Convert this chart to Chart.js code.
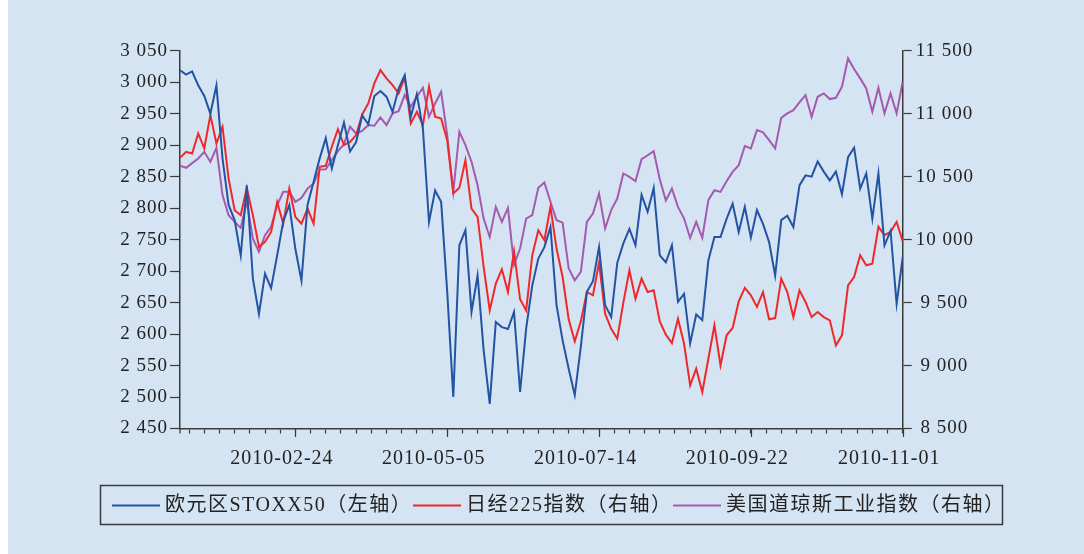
<!DOCTYPE html>
<html>
<head>
<meta charset="utf-8">
<script src="https://cdn.jsdelivr.net/npm/chart.js@4.4.0/dist/chart.umd.min.js"></script>
<style>
  html, body { margin: 0; padding: 0; background: #fff; }
  #wrap { position: relative; width: 1084px; height: 554px; background: #d5e4f3; overflow: hidden; }
  #band { position: absolute; left: 0; top: 0; width: 8px; height: 554px; background: #fff; }
  canvas { position: absolute; left: 0; top: 0; }
</style>
</head>
<body>
<div id="wrap"><div id="band"></div><canvas id="chart" width="1084" height="554"></canvas></div>
<script>
// one sample every 2 trading days, from day 2 to day 240
const stoxx = [
  3019, 3012, 3017, 2995, 2978, 2950, 2995, 2879, 2805, 2781,
  2725, 2836, 2688, 2632, 2696, 2673, 2725, 2779, 2805, 2735,
  2685, 2805, 2842, 2879, 2911, 2863, 2900, 2936, 2890, 2905,
  2947, 2933, 2978, 2986, 2977, 2953, 2990, 3011, 2945, 2981,
  2926, 2778, 2828, 2810, 2667, 2500, 2741, 2765, 2635, 2693,
  2574, 2489, 2619, 2611, 2608, 2635, 2508, 2609, 2677, 2720,
  2738, 2770, 2646, 2590, 2545, 2503, 2580, 2667, 2684, 2738,
  2646, 2627, 2713, 2744, 2767, 2741, 2821, 2794, 2832, 2725,
  2714, 2741, 2651, 2664, 2585, 2631, 2622, 2717, 2754, 2754,
  2783, 2807, 2762, 2802, 2753, 2797, 2775, 2746, 2693, 2781,
  2788, 2770, 2836, 2852, 2850, 2874, 2858, 2844, 2858, 2822,
  2881, 2896, 2831, 2855, 2783, 2855, 2741, 2764, 2648, 2722
];
const nikkei = [
  10649, 10697, 10684, 10843, 10724, 10989, 10763, 10896, 10485, 10233,
  10194, 10411, 10194, 9942, 9982, 10061, 10299, 10127, 10405, 10180,
  10127, 10246, 10127, 10578, 10586, 10737, 10877, 10750, 10776, 10830,
  10994, 11081, 11240, 11346, 11280, 11227, 11161, 11288, 10922, 11015,
  10909, 11214, 10975, 10962, 10790, 10366, 10411, 10631, 10246, 10180,
  9783, 9438, 9650, 9764, 9584, 9907, 9526, 9438, 9875, 10074,
  9995, 10260, 9929, 9703, 9367, 9192, 9351, 9584, 9558, 9817,
  9412, 9292, 9213, 9499, 9756, 9531, 9690, 9584, 9597, 9350,
  9245, 9178, 9372, 9173, 8842, 8975, 8789, 9054, 9319, 9001,
  9240, 9298, 9510, 9616, 9558, 9465, 9584, 9367, 9377, 9690,
  9584, 9385, 9597, 9505, 9385, 9425, 9385, 9359, 9160, 9240,
  9637, 9703, 9875, 9796, 9809, 10101, 10035, 10061, 10141, 9987
];
const dow = [
  10586, 10570, 10607, 10644, 10697, 10617, 10729, 10353, 10194, 10141,
  10093, 10300, 10008, 9902, 10035, 10101, 10273, 10379, 10379, 10300,
  10331, 10405, 10445, 10557, 10559, 10631, 10702, 10758, 10896, 10843,
  10864, 10909, 10904, 10970, 10909, 11002, 11020, 11148, 11055, 11134,
  11206, 10975, 11081, 11174, 10830, 10379, 10856, 10750, 10618, 10432,
  10167, 10021, 10260, 10140, 10252, 9801, 9929, 10167, 10194, 10411,
  10453, 10300, 10154, 10135, 9770, 9677, 9743, 10140, 10207, 10366,
  10088, 10234, 10326, 10525, 10498, 10464, 10639, 10670, 10702, 10480,
  10310, 10405, 10260, 10167, 10013, 10141, 10013, 10313, 10392, 10379,
  10464, 10538, 10591, 10742, 10724, 10869, 10851, 10790, 10724, 10967,
  11002, 11028, 11089, 11148, 10975, 11134, 11161, 11116, 11126, 11214,
  11439, 11354, 11280, 11200, 11015, 11206, 11002, 11161, 11002, 11254
];
const days = stoxx.map((_, i) => 2 + 2 * i);

const tickDays = [40, 90, 140, 190, 240];
const tickLabels = ['2010-02-24', '2010-05-05', '2010-07-14', '2010-09-22', '2010-11-01'];
const seriesNames = ['欧元区STOXX50（左轴）', '日经225指数（右轴）', '美国道琼斯工业指数（右轴）'];
const seriesColors = ['#2453a2', '#f0282a', '#a55aad'];

const axisColor = '#3a3a3a';
const textColor = '#222';
const serif = '"Liberation Serif", "Noto Sans CJK SC", serif';

const fmt = v => String(v).replace(/\B(?=(\d{3})+(?!\d))/g, ' ');
const pts = arr => arr.map((v, i) => ({ x: days[i], y: v }));

const extras = {
  id: 'extras',
  beforeDraw(chart) {
    chart.ctx.letterSpacing = '1px';
  },
  afterDraw(chart) {
    const { ctx, chartArea } = chart;
    const x = chart.scales.x;
    ctx.save();
    ctx.strokeStyle = axisColor;
    ctx.lineWidth = 1.2;
    ctx.beginPath();
    tickDays.forEach(d => {
      const px = Math.round(x.getPixelForValue(d)) + 0.5;
      ctx.moveTo(px, chartArea.bottom);
      ctx.lineTo(px, chartArea.bottom + 8.5);
    });
    ctx.moveTo(chartArea.left, chartArea.bottom);
    ctx.lineTo(chartArea.left, chartArea.bottom + 5);
    ctx.stroke();

    // legend box
    ctx.lineWidth = 1.5;
    ctx.strokeRect(100.5, 485.5, 902, 39);
    const starts = [112, 413, 673];
    ctx.font = '20px ' + serif;
    ctx.letterSpacing = '1.5px';
    ctx.textBaseline = 'middle';
    ctx.fillStyle = textColor;
    seriesNames.forEach((name, i) => {
      ctx.strokeStyle = seriesColors[i];
      ctx.lineWidth = 2;
      ctx.beginPath();
      ctx.moveTo(starts[i], 505.5);
      ctx.lineTo(starts[i] + 48, 505.5);
      ctx.stroke();
      ctx.fillText(name, starts[i] + 53, 506);
    });
    ctx.restore();
  }
};

new Chart(document.getElementById('chart'), {
  type: 'line',
  data: {
    datasets: [
      { label: seriesNames[0], data: pts(stoxx), yAxisID: 'y', borderColor: seriesColors[0] },
      { label: seriesNames[1], data: pts(nikkei), yAxisID: 'y2', borderColor: seriesColors[1] },
      { label: seriesNames[2], data: pts(dow), yAxisID: 'y2', borderColor: seriesColors[2] }
    ]
  },
  options: {
    responsive: false,
    devicePixelRatio: 1,
    animation: false,
    layout: { padding: { top: 50.7, left: 0, right: 0, bottom: 0 } },
    elements: {
      line: { borderWidth: 2, tension: 0 },
      point: { radius: 0 }
    },
    plugins: { legend: { display: false }, tooltip: { enabled: false } },
    scales: {
      x: {
        type: 'linear',
        min: 2,
        max: 240,
        afterBuildTicks: s => {
          const t = [];
          for (let d = 5; d <= 240; d += 5) t.push({ value: d });
          s.ticks = t;
        },
        afterFit: s => { s.height = 554 - 428.5; },
        ticks: {
          autoSkip: false,
          maxRotation: 0,
          labelOffset: -13.5,
          padding: 13,
          color: textColor,
          font: { family: serif, size: 20 },
          callback: v => {
            const i = tickDays.indexOf(v);
            return i >= 0 ? tickLabels[i] : '';
          }
        },
        grid: { drawOnChartArea: false, tickLength: 5, tickColor: axisColor, tickWidth: 1.2 },
        border: { display: true, color: axisColor, width: 1.5 }
      },
      y: {
        position: 'left',
        min: 2450,
        max: 3050,
        afterFit: s => { s.width = 180; },
        ticks: {
          stepSize: 50,
          padding: 2,
          color: textColor,
          font: { family: serif, size: 19 },
          callback: v => fmt(v)
        },
        grid: { drawOnChartArea: false, tickLength: 10, tickColor: axisColor, tickWidth: 1.2 },
        border: { display: true, color: axisColor, width: 1.5 }
      },
      y2: {
        position: 'right',
        min: 8500,
        max: 11500,
        afterFit: s => { s.width = 1084 - 902.7; },
        ticks: {
          stepSize: 500,
          padding: 4,
          color: textColor,
          font: { family: serif, size: 19 },
          callback: v => (v < 10000 ? '\u2009' : '') + fmt(v)
        },
        grid: { drawOnChartArea: false, tickLength: 9, tickColor: axisColor, tickWidth: 1.2 },
        border: { display: true, color: axisColor, width: 1.5 }
      }
    }
  },
  plugins: [extras]
});
</script>
</body>
</html>
